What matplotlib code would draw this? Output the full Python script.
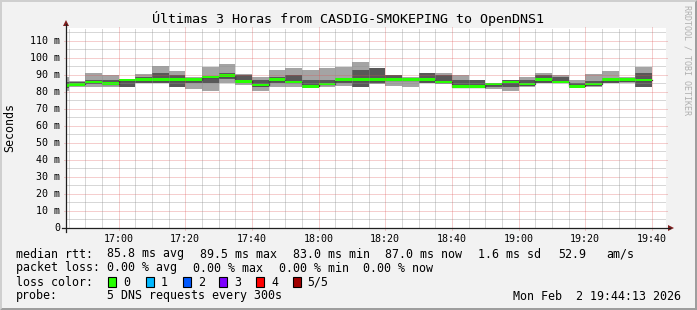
import matplotlib
matplotlib.use("Agg")
import matplotlib.pyplot as plt
import numpy as np
from matplotlib.patches import Rectangle, Polygon

W, H, DPI = 697, 310, 100
FONT = "DejaVu Sans Mono"

# ---------------- data (ms), one entry per 5-minute step ----------------
bin_start = ["16:40", "16:45", "16:50", "16:55", "17:00", "17:05", "17:10", "17:15",
             "17:20", "17:25", "17:30", "17:35", "17:40", "17:45", "17:50", "17:55",
             "18:00", "18:05", "18:10", "18:15", "18:20", "18:25", "18:30", "18:35",
             "18:40", "18:45", "18:50", "18:55", "19:00", "19:05", "19:10", "19:15",
             "19:20", "19:25", "19:30", "19:35"]
ping_min = [80.6, 82.8, 82.8, 82.8, 82.8, 85.1, 85.1, 83.1, 81.8, 80.8, 85.1, 84.1,
            80.8, 83.1, 83.1, 82.8, 82.8, 83.5, 82.8, 84.7, 83.5, 82.8, 85.1, 84.7,
            82.8, 82.8, 82.0, 80.8, 82.8, 85.1, 85.1, 82.8, 82.8, 85.1, 85.1, 82.8]
ping_2nd = [82.5, 83.5, 84.7, 84.1, 83.1, 85.1, 85.1, 83.1, 85.1, 85.1, 87.5, 85.1,
            83.1, 85.1, 85.1, 83.0, 85.1, 85.1, 82.8, 85.1, 86.5, 86.5, 85.5, 85.1,
            83.0, 83.0, 82.8, 82.8, 83.5, 85.5, 85.3, 83.0, 83.5, 85.5, 86.0, 82.8]
median   = [84.0, 84.6, 85.9, 84.8, 87.0, 87.1, 87.1, 87.1, 87.1, 88.8, 89.5, 86.3,
            84.1, 87.1, 85.9, 83.3, 84.7, 87.1, 87.1, 87.1, 87.1, 87.1, 87.1, 85.9,
            83.0, 83.2, 84.7, 85.9, 84.7, 87.1, 85.9, 83.3, 84.7, 87.1, 87.1, 87.0]
ping_4th = [86.0, 85.7, 87.1, 87.1, 87.1, 88.5, 91.4, 90.0, 87.6, 89.4, 91.4, 90.0,
            87.3, 88.6, 90.0, 87.1, 87.1, 87.6, 92.9, 94.1, 90.0, 88.0, 91.0, 90.0,
            87.1, 86.8, 85.3, 86.8, 87.1, 90.0, 88.6, 85.1, 86.5, 87.6, 88.2, 91.0]
ping_max = [88.5, 86.5, 91.4, 90.0, 87.6, 90.6, 95.5, 92.5, 88.6, 94.9, 96.7, 90.4,
            88.6, 92.9, 94.1, 92.9, 93.9, 94.7, 97.6, 94.1, 90.0, 88.6, 91.4, 91.4,
            90.0, 87.1, 85.5, 87.1, 88.6, 91.4, 90.0, 87.1, 90.6, 92.3, 88.6, 94.9]

y_ticks = [0, 10, 20, 30, 40, 50, 60, 70, 80, 90, 100, 110]
y_labels = ["0", "10 m", "20 m", "30 m", "40 m", "50 m", "60 m", "70 m", "80 m",
            "90 m", "100 m", "110 m"]
x_ticks = ["17:00", "17:20", "17:40", "18:00", "18:20", "18:40", "19:00", "19:20", "19:40"]

title = "Últimas 3 Horas from CASDIG-SMOKEPING to OpenDNS1"
loss_labels = ["0", "1", "2", "3", "4", "5/5"]
loss_colors = ["#26ff00", "#00b8ff", "#0059ff", "#7e00ff", "#ff0000", "#a10000"]


def tmin(s):
    h, m = s.split(":")
    return int(h) * 60 + int(m)


t0 = 16 * 60 + 44 + 13 / 60.0
t1 = t0 + 180
YMAX = 117.6

# ---------------- figure ----------------
fig = plt.figure(figsize=(W / DPI, H / DPI), dpi=DPI)
fig.patch.set_facecolor("#f2f2f2")

AX_L, AX_R, AX_B, AX_T = 66.0, 666.0, 228.0, 28.0
ax = fig.add_axes([AX_L / W, 1 - AX_B / H, (AX_R - AX_L) / W, (AX_B - AX_T) / H])
ax.set_facecolor("white")
ax.set_xlim(t0, t1)
ax.set_ylim(0, YMAX)
for s in ax.spines.values():
    s.set_visible(False)
ax.set_xticks([])
ax.set_yticks([])

px_x = (t1 - t0) / (AX_R - AX_L)
px_y = YMAX / (AX_B - AX_T)

starts = np.array([tmin(s) for s in bin_start], dtype=float)
edges = np.append(starts, starts[-1] + 5)


def ext(a):
    a = np.asarray(a, dtype=float)
    return np.append(a, a[-1])


ax.fill_between(edges, ext(ping_min), ext(ping_max), step="post",
                color="#a4a4a4", lw=0, antialiased=False, zorder=2)
ax.fill_between(edges, ext(ping_2nd), ext(ping_4th), step="post",
                color="#585858", lw=0, antialiased=False, zorder=3)
ax.step(edges, ext(median), where="post", color="#202020", lw=0.9, zorder=4)
sw = 1.4 * px_y
med = ext(median)
ax.fill_between(edges, med - sw, med + sw, step="post", color=loss_colors[0],
                lw=0, antialiased=False, zorder=5)

# ---------------- grid (drawn over the data, like rrdtool) ----------------
minor_c = (0.56, 0.56, 0.56, 0.7)
major_c = (0.87, 0.31, 0.31, 0.55)
dash = (0, (1, 1))
gkw = dict(lw=0.72, ls=dash, zorder=6)
for v in np.arange(5, YMAX, 5):
    if v % 10 == 0:
        ax.plot([t0 - 2 * px_x, t1 + 2 * px_x], [v, v], color=major_c,
                clip_on=False, **gkw)
    else:
        ax.plot([t0, t1], [v, v], color=minor_c, **gkw)
major_t = [tmin(s) for s in x_ticks]
for t in range(16 * 60 + 45, int(t1) + 1, 5):
    if t in major_t:
        ax.plot([t, t], [-2 * px_y, YMAX + 2 * px_y], color=major_c,
                clip_on=False, **gkw)
    else:
        ax.plot([t, t], [0, YMAX], color=minor_c, **gkw)

# ---------------- overlay in pixel coordinates ----------------
pix = fig.add_axes([0, 0, 1, 1], zorder=10)
pix.set_xlim(0, W)
pix.set_ylim(H, 0)
pix.axis("off")
pix.patch.set_alpha(0)

# 3D border
pix.add_patch(Polygon([(0, 0), (W, 0), (W - 2, 2), (2, 2), (2, H - 2), (0, H)],
                      closed=True, color="#cfcfcf", lw=0))
pix.add_patch(Polygon([(W, 0), (W, H), (0, H), (2, H - 2), (W - 2, H - 2), (W - 2, 2)],
                      closed=True, color="#9e9e9e", lw=0))

axis_c = "#1f1f1f"
arrow_c = "#801f1f"
pix.plot([AX_L - 4, AX_R + 4], [AX_B, AX_B], color=axis_c, lw=0.9)
pix.plot([AX_L, AX_L], [AX_B + 4, AX_T - 4], color=axis_c, lw=0.9)
pix.add_patch(Polygon([(AX_R + 2, AX_B - 3), (AX_R + 8, AX_B), (AX_R + 2, AX_B + 3)],
                      closed=True, color=arrow_c, lw=0))
pix.add_patch(Polygon([(AX_L - 3, AX_T - 2), (AX_L, AX_T - 8), (AX_L + 3, AX_T - 2)],
                      closed=True, color=arrow_c, lw=0))


def T(x, y, s, size=8.4, ha="left", va="center", **kw):
    pix.text(x, y, s, fontsize=size, family=FONT, ha=ha, va=va, color="black", **kw)


# title
T(W / 2, 18.5, title, size=9.6, ha="center")
# y label
T(10, AX_T + (AX_B - AX_T) / 2, "Seconds", size=8.4, ha="center", rotation=90)
# watermark
pix.text(687, 5, "RRDTOOL / TOBI OETIKER", fontsize=6.0, family=FONT, color="#b0b0b0",
         rotation=270, ha="center", va="top")

# tick labels via data->pixel transform
to_pix = ax.transData + pix.transData.inverted()
for v, lab in zip(y_ticks, y_labels):
    _, yp = to_pix.transform((t0, v))
    T(60, yp, lab, size=7.2, ha="right")
for lab in x_ticks:
    xp, _ = to_pix.transform((tmin(lab), 0))
    T(xp, 238.5, lab, size=7.2, ha="center")

# legend
T(16, 254, "median rtt:")
T(107.3, 254, "85.8 ms avg")
T(200, 254, "89.5 ms max")
T(293.3, 254, "83.0 ms min")
T(385, 254, "87.0 ms now")
T(478.3, 254, "1.6 ms sd")
T(558.3, 254, "52.9")
T(606.7, 254, "am/s")

T(16, 268, "packet loss:")
T(107.3, 268, "0.00 % avg")
T(193.3, 268, "0.00 % max")
T(279.3, 268, "0.00 % min")
T(363.3, 268, "0.00 % now")

T(16, 282, "loss color:")
box_x = [108.3, 145.7, 182.7, 219.3, 256.0, 292.7]
for bx, lab, col in zip(box_x, loss_labels, loss_colors):
    pix.add_patch(Rectangle((bx, 277), 8, 9.5, facecolor=col, edgecolor="black", lw=0.8))
    T(bx + 15, 282, lab)

T(16, 296, "probe:")
T(107.3, 296, "5 DNS requests every 300s")
T(680.7, 296, "Mon Feb  2 19:44:13 2026", ha="right")

fig.savefig("out.png", dpi=DPI, facecolor=fig.get_facecolor())
